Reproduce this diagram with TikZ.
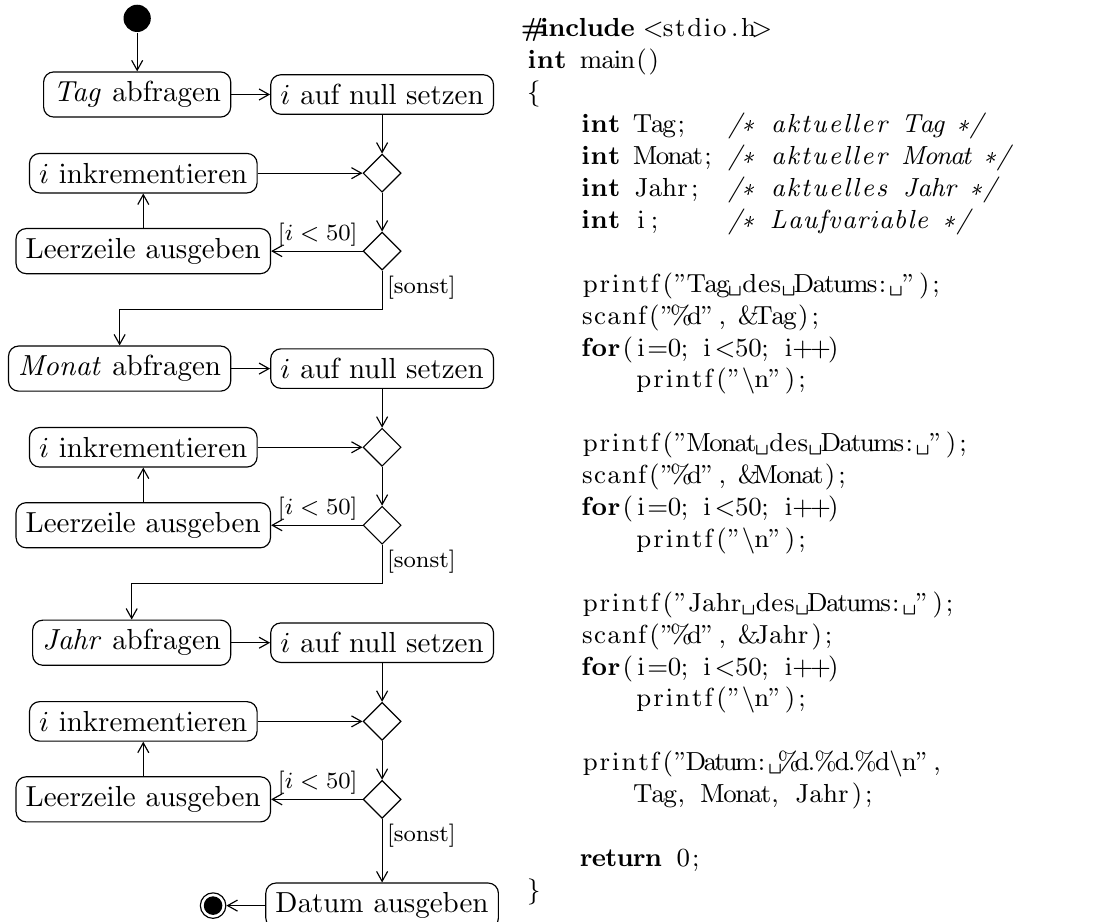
\documentclass[tikz,border=0pt]{standalone}
\usepackage[OT1]{fontenc}
\renewcommand{\rmdefault}{cmr}
\usepackage{listings}
\usetikzlibrary{shapes.geometric,arrows.meta,positioning}

\begin{filecontents*}[overwrite]{datum.c}
#include <stdio.h>
int main()
{
    int Tag;   /* aktueller Tag */
    int Monat; /* aktueller Monat */
    int Jahr;  /* aktuelles Jahr */
    int i;     /* Laufvariable */

    printf("Tag des Datums: ");
    scanf("%d", &Tag);
    for(i=0; i<50; i++)
        printf("\n");

    printf("Monat des Datums: ");
    scanf("%d", &Monat);
    for(i=0; i<50; i++)
        printf("\n");

    printf("Jahr des Datums: ");
    scanf("%d", &Jahr);
    for(i=0; i<50; i++)
        printf("\n");

    printf("Datum: %d.%d.%d\n",
        Tag, Monat, Jahr);

    return 0;
}
\end{filecontents*}

\lstset{language=C, basicstyle=\small, columns=fixed, basewidth=0.5em,
  aboveskip=0pt, belowskip=0pt}

\begin{document}
\begin{tikzpicture}[
    node distance=4.7mm,
    activity/.style={rectangle, draw, rounded corners=3.5pt},
    decision/.style={diamond, draw, inner sep=0pt, minimum size=13.1pt},
    initial/.style={circle, fill=black, inner sep=0pt, minimum size=9.4pt},
    final/.style={circle, draw, inner sep=0pt, minimum size=8.8pt,
        path picture={\fill (path picture bounding box.center) circle (3.2pt);}},
    guard/.style={font=\footnotesize, inner sep=1.5pt},
    flow/.style={-{Straight Barb[length=3.4pt,width=3.8pt]}}
]
\useasboundingbox (0,0) rectangle (13.45,-11.17);

% Tag
\node[activity] (null1) at (4.63,-1.145) {$i$ auf null setzen};
\node[activity, left=of null1] (ask1) {\textit{Tag} abfragen};
\node[initial, above=of ask1] (start) {};
\node[decision, below=of null1] (merge1) {};
\node[activity, left=1.27cm of merge1] (inc1) {$i$ inkrementieren};
\node[decision, below=of merge1] (branch1) {};
\node[activity] (blank1) at (inc1 |- branch1) {Leerzeile ausgeben};

% Monat
\node[activity, below=9.4mm of branch1] (null2) {$i$ auf null setzen};
\node[activity, left=of null2] (ask2) {\textit{Monat} abfragen};
\node[decision, below=of null2] (merge2) {};
\node[activity] (inc2) at (inc1 |- merge2) {$i$ inkrementieren};
\node[decision, below=of merge2] (branch2) {};
\node[activity] (blank2) at (inc1 |- branch2) {Leerzeile ausgeben};

% Jahr
\node[activity, below=9.4mm of branch2] (null3) {$i$ auf null setzen};
\node[activity, left=of null3] (ask3) {\textit{Jahr} abfragen};
\node[decision, below=of null3] (merge3) {};
\node[activity] (inc3) at (inc1 |- merge3) {$i$ inkrementieren};
\node[decision, below=of merge3] (branch3) {};
\node[activity] (blank3) at (inc1 |- branch3) {Leerzeile ausgeben};

% Ausgabe
\node[activity, below=7.7mm of branch3] (out) {Datum ausgeben};
\node[final, left=of out] (stop) {};

% Quelltext
\node[anchor=north west, inner sep=0pt] (code) at (6.38,-0.17) {%
    \begin{minipage}{6.8cm}\lstinputlisting{datum.c}\end{minipage}};

% Arrows
\draw[flow] (start) -- (ask1);
\draw[flow] (ask1) -- (null1);
\draw[flow] (null1) -- (merge1);
\draw[flow] (inc1) -- (merge1);
\draw[flow] (merge1) -- (branch1);
\draw[flow] (branch1) -- node[guard, above left, pos=0] {[$i<50$]} (blank1);
\draw[flow] (blank1) -- (inc1);
\draw[flow] (branch1.south) -- node[guard, below right, pos=0] {[sonst]} ++(0,-4.7mm) -| (ask2.north);

\draw[flow] (ask2) -- (null2);
\draw[flow] (null2) -- (merge2);
\draw[flow] (inc2) -- (merge2);
\draw[flow] (merge2) -- (branch2);
\draw[flow] (branch2) -- node[guard, above left, pos=0] {[$i<50$]} (blank2);
\draw[flow] (blank2) -- (inc2);
\draw[flow] (branch2.south) -- node[guard, below right, pos=0] {[sonst]} ++(0,-4.7mm) -| (ask3.north);

\draw[flow] (ask3) -- (null3);
\draw[flow] (null3) -- (merge3);
\draw[flow] (inc3) -- (merge3);
\draw[flow] (merge3) -- (branch3);
\draw[flow] (branch3) -- node[guard, above left, pos=0] {[$i<50$]} (blank3);
\draw[flow] (blank3) -- (inc3);
\draw[flow] (branch3) -- node[guard, below right, pos=0] {[sonst]} (out);
\draw[flow] (out) -- (stop);

\end{tikzpicture}
\end{document}
